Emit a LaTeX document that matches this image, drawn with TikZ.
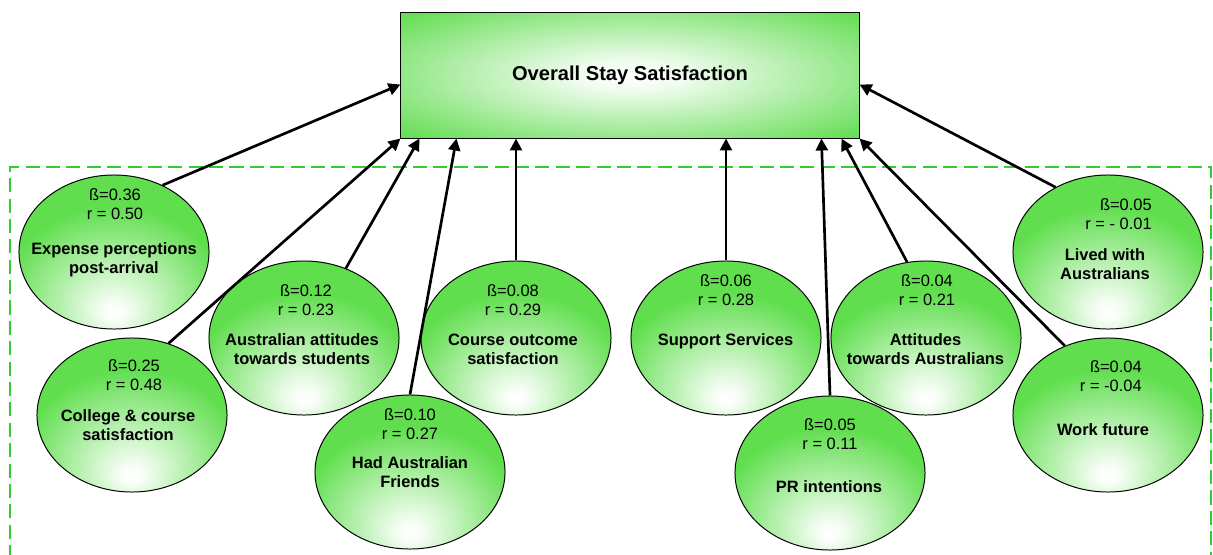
\documentclass[tikz,border=0pt]{standalone}
\usepackage{fontspec}
\setmainfont{Liberation Sans}
\usetikzlibrary{calc,arrows.meta,shapes.geometric}

\definecolor{bubblegreen}{RGB}{96,222,78}
\definecolor{boxgreen}{RGB}{104,222,88}
\definecolor{framegreen}{RGB}{51,204,51}

\pgfdeclareradialshading{bubbleshade}{\pgfpoint{0bp}{-20bp}}{color(0bp)=(white); color(3bp)=(white!95!bubblegreen); color(29bp)=(bubblegreen); color(100bp)=(bubblegreen)}
\pgfdeclareradialshading{boxshade}{\pgfpoint{0bp}{0bp}}{color(0bp)=(white); color(6bp)=(white!90!boxgreen); color(34bp)=(boxgreen); color(100bp)=(boxgreen)}

\tikzset{
  stay/.style={rectangle, draw, line width=0.7pt, minimum width=11.45cm, minimum height=3.125cm,
    shading=boxshade, font=\fontsize{14.3}{17}\selectfont\bfseries},
  bubble/.style={ellipse, draw, line width=0.7pt, minimum width=4.75cm, minimum height=3.85cm,
    inner sep=0pt, shading=bubbleshade},
  stat/.style={align=center, inner sep=0pt, font=\fontsize{11.7}{13.5}\selectfont},
  factor/.style={align=center, inner sep=0pt, font=\fontsize{11.7}{13.5}\selectfont\bfseries},
  link/.style={line width=1.9pt, -{Triangle[length=8.5pt,width=8.5pt]}},
}

\begin{document}
\begin{tikzpicture}[x=0.025cm,y=-0.025cm]
    \useasboundingbox (0,0) rectangle (1213,554);

    % dashed frame round the predictors
    \draw[framegreen, line width=1.7pt, dash pattern=on 10pt off 4.5pt]
        (10,600) -- (10,167) -- (1211,167) -- (1211,600);

    \node[stay] (stay) at (630,75.5) {Overall Stay Satisfaction};

    % predictors
    \node[bubble] (exp) at (114,252) {};
    \node[bubble] (col) at (132,415) {};
    \node[bubble] (aus) at (304,338) {};
    \node[bubble] (had) at (410,472) {};
    \node[bubble] (course) at (516,338) {};
    \node[bubble] (sup) at (726,338) {};
    \node[bubble] (att) at (926,338) {};
    \node[bubble] (pr) at (830,473) {};
    \node[bubble] (lived) at (1108,252) {};
    \node[bubble] (work) at (1108,415) {};

    \node[stat] (expstat) at (115,204) {ß=0.36\\r = 0.50};
    \node[factor] (expname) at (114,259.5) {Expense perceptions\\post-arrival};
    \node[stat] (colstat) at (134,375.5) {ß=0.25\\r = 0.48};
    \node[factor] (colname) at (128,425.5) {College \& course\\satisfaction};
    \node[stat] (ausstat) at (306,300) {ß=0.12\\r = 0.23};
    \node[factor] (ausname) at (302,349.5) {Australian attitudes\\towards students};
    \node[stat] (hadstat) at (410,424) {ß=0.10\\r = 0.27};
    \node[factor] (hadname) at (410,472) {Had Australian\\Friends};
    \node[stat] (coursestat) at (513,300) {ß=0.08\\r = 0.29};
    \node[factor] (coursename) at (513,349.5) {Course outcome\\satisfaction};
    \node[stat] (supstat) at (726,290.5) {ß=0.06\\r = 0.28};
    \node[factor] (supname) at (725.5,341) {Support Services};
    \node[stat] (attstat) at (927,290.5) {ß=0.04\\r = 0.21};
    \node[factor] (attname) at (925.5,349.5) {Attitudes\\towards Australians};
    \node[stat] (prstat) at (830,434) {ß=0.05\\r = 0.11};
    \node[factor] (prname) at (829,487) {PR intentions};
    \node[stat, anchor=east, align=right] (livedstat) at (1152,214.5) {ß=0.05\\r = - 0.01};
    \node[factor] (livedname) at (1105,264.5) {Lived with\\Australians};
    \node[stat, anchor=east, align=right] (workstat) at (1142,376) {ß=0.04\\r = -0.04};
    \node[factor] (workname) at (1103,430) {Work future};

    % paths into overall satisfaction
    \draw[link] (exp.54) -- ($(stay.west)+(0,9)$);
    \draw[link] (col.63) -- (stay.south west);
    \draw[link] (aus.59) -- ($(stay.south west)+(19,0)$);
    \draw[link] (had.north) -- ($(stay.south west)+(56,0)$);
    \draw[link] (course.north) -- (course.north |- stay.south);
    \draw[link] (sup.north) -- (sup.north |- stay.south);
    \draw[link] (pr.north) -- ($(stay.south west)+(421,0)$);
    \draw[link] (att.104) -- ($(stay.south west)+(441,0)$);
    \draw[link] (work.122) -- (stay.south east);
    \draw[link] (lived.129) -- ($(stay.east)+(0,9)$);
\end{tikzpicture}
\end{document}
